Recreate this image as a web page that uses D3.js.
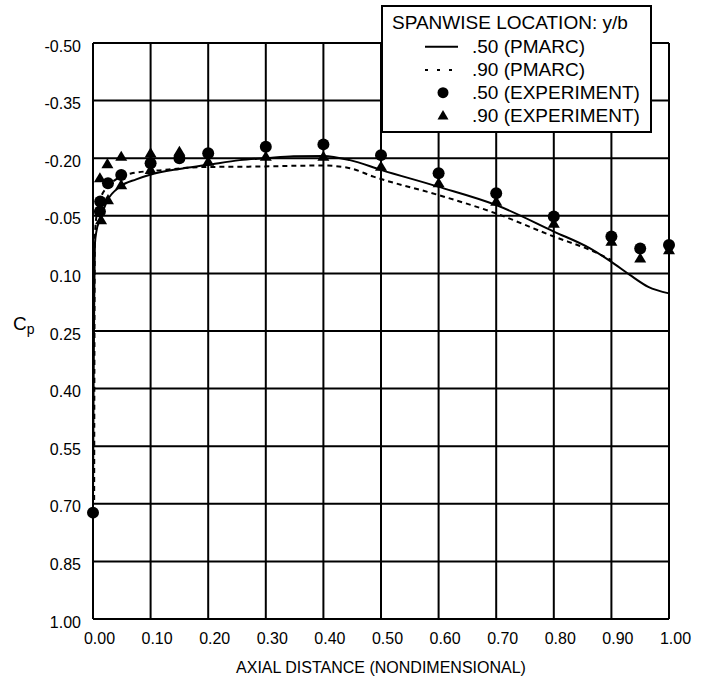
<!DOCTYPE html>
<html>
<head>
<meta charset="utf-8">
<script src="https://cdn.jsdelivr.net/npm/d3@7"></script>
<style>
    body { margin: 0; background: #fff; }
    svg { display: block; font-family: "Liberation Sans", Arial, sans-serif; }
</style>
</head>
<body>
<svg id="chart" width="708" height="684"></svg>
<script>
// axis ticks
var xTicks = [0, 0.1, 0.2, 0.3, 0.4, 0.5, 0.6, 0.7, 0.8, 0.9, 1.0];
var xTickLabels = ["0.00", "0.10", "0.20", "0.30", "0.40", "0.50", "0.60", "0.70", "0.80", "0.90", "1.00"];
var yTicks = [-0.5, -0.35, -0.2, -0.05, 0.1, 0.25, 0.4, 0.55, 0.7, 0.85, 1.0];
var yTickLabels = ["-0.50", "-0.35", "-0.20", "-0.05", "0.10", "0.25", "0.40", "0.55", "0.70", "0.85", "1.00"];

// y/b = .50, PMARC  [x, Cp]
var pmarc50 = [[0, 0.70], [0.001, 0.40], [0.002, 0.20], [0.0035, 0.02], [0.006, -0.01], [0.012, -0.04],
    [0.025, -0.09], [0.047, -0.126], [0.075, -0.145], [0.099, -0.157], [0.15, -0.172], [0.197, -0.182],
    [0.255, -0.195], [0.30, -0.200], [0.348, -0.205], [0.40, -0.206], [0.446, -0.195], [0.501, -0.169],
    [0.599, -0.126], [0.70, -0.078], [0.80, -0.009], [0.863, 0.035], [0.90, 0.07], [0.932, 0.104],
    [0.964, 0.135], [1.0, 0.152]];

// y/b = .90, PMARC
var pmarc90 = [[0.002, 0.69], [0.0025, 0.30], [0.003, 0.02], [0.006, -0.05], [0.012, -0.09],
    [0.025, -0.125], [0.04, -0.145], [0.066, -0.16], [0.12, -0.169], [0.19, -0.177], [0.27, -0.178],
    [0.40, -0.181], [0.446, -0.174], [0.487, -0.152], [0.60, -0.104], [0.70, -0.056], [0.80, 0.004],
    [0.863, 0.039], [0.90, 0.065]];

// y/b = .50, experiment
var exp50 = [[0, 0.723], [0.012, -0.061], [0.0125, -0.087], [0.026, -0.135], [0.049, -0.156],
    [0.10, -0.187], [0.15, -0.200], [0.20, -0.213], [0.30, -0.230], [0.40, -0.236], [0.50, -0.208],
    [0.60, -0.161], [0.70, -0.109], [0.80, -0.048], [0.90, 0.004], [0.95, 0.035], [1.0, 0.026]];

// y/b = .90, experiment
var exp90 = [[0.012, -0.148], [0.014, -0.039], [0.025, -0.185], [0.026, -0.091], [0.049, -0.204],
    [0.049, -0.130], [0.10, -0.213], [0.10, -0.170], [0.15, -0.217], [0.20, -0.191], [0.30, -0.204],
    [0.40, -0.204], [0.50, -0.178], [0.60, -0.135], [0.70, -0.087], [0.80, -0.030], [0.90, 0.017],
    [0.95, 0.061], [1.0, 0.039]];

var legendTitle = "SPANWISE LOCATION: y/b";
var legendLabels = [".50 (PMARC)", ".90 (PMARC)", ".50 (EXPERIMENT)", ".90 (EXPERIMENT)"];

var margin = {left: 93, top: 43};
var width = 576, height = 576;

var svg = d3.select("#chart");
var g = svg.append("g").attr("transform", "translate(" + margin.left + "," + margin.top + ")");

var x = d3.scaleLinear().domain([0, 1]).range([0, width]);
var y = d3.scaleLinear().domain([-0.5, 1.0]).range([0, height]);

// grid
g.append("g").selectAll("line.vgrid")
    .data(xTicks)
    .enter().append("line")
    .attr("x1", function (d) { return x(d); })
    .attr("x2", function (d) { return x(d); })
    .attr("y1", 0).attr("y2", height)
    .attr("stroke", "#000").attr("stroke-width", 2);

g.append("g").selectAll("line.hgrid")
    .data(yTicks)
    .enter().append("line")
    .attr("x1", 0).attr("x2", width)
    .attr("y1", function (d) { return y(d); })
    .attr("y2", function (d) { return y(d); })
    .attr("stroke", "#000").attr("stroke-width", 2);

// tick labels
g.append("g").selectAll("text")
    .data(xTicks)
    .enter().append("text")
    .attr("x", function (d) { return x(d) + 6.5; })
    .attr("y", height + 25)
    .attr("text-anchor", "middle")
    .attr("font-size", 16)
    .text(function (d, i) { return xTickLabels[i]; });

g.append("g").selectAll("text")
    .data(yTicks)
    .enter().append("text")
    .attr("x", -12)
    .attr("y", function (d) { return y(d) + 8.5; })
    .attr("text-anchor", "end")
    .attr("font-size", 16)
    .text(function (d, i) { return yTickLabels[i]; });

// axis titles
svg.append("text")
    .attr("x", 381)
    .attr("y", 673)
    .attr("text-anchor", "middle")
    .attr("font-size", 16)
    .text("AXIAL DISTANCE (NONDIMENSIONAL)");

var cp = svg.append("text").attr("x", 13).attr("y", 330).attr("font-size", 19);
cp.append("tspan").text("C");
cp.append("tspan").attr("font-size", 14).attr("dy", 4).text("p");

// PMARC lines
var line = d3.line()
    .x(function (d) { return x(d[0]); })
    .y(function (d) { return y(d[1]); })
    .curve(d3.curveMonotoneX);

g.append("path")
    .datum(pmarc90)
    .attr("d", line)
    .attr("fill", "none")
    .attr("stroke", "#000")
    .attr("stroke-width", 2)
    .attr("stroke-dasharray", "5,4");

g.append("path")
    .datum(pmarc50)
    .attr("d", line)
    .attr("fill", "none")
    .attr("stroke", "#000")
    .attr("stroke-width", 2);

// experiment markers
var triangle = "M0,-6L6,4.2L-6,4.2Z";

g.append("g").selectAll("circle")
    .data(exp50)
    .enter().append("circle")
    .attr("cx", function (d) { return x(d[0]); })
    .attr("cy", function (d) { return y(d[1]); })
    .attr("r", 6)
    .attr("fill", "#000");

g.append("g").selectAll("path")
    .data(exp90)
    .enter().append("path")
    .attr("d", triangle)
    .attr("transform", function (d) { return "translate(" + x(d[0]) + "," + y(d[1]) + ")"; })
    .attr("fill", "#000");

// legend
var legend = svg.append("g").attr("transform", "translate(382,6)");

legend.append("rect")
    .attr("width", 269).attr("height", 126)
    .attr("fill", "#fff")
    .attr("stroke", "#000").attr("stroke-width", 2);

legend.append("text")
    .attr("x", 10).attr("y", 23)
    .attr("font-size", 19)
    .text(legendTitle);

legend.selectAll("text.item")
    .data(legendLabels)
    .enter().append("text")
    .attr("class", "item")
    .attr("x", 90)
    .attr("y", function (d, i) { return 47 + i * 23; })
    .attr("font-size", 19)
    .text(function (d) { return d; });

legend.append("line")
    .attr("x1", 43).attr("x2", 76).attr("y1", 40.7).attr("y2", 40.7)
    .attr("stroke", "#000").attr("stroke-width", 2);

legend.append("line")
    .attr("x1", 43).attr("x2", 79).attr("y1", 64).attr("y2", 64)
    .attr("stroke", "#000").attr("stroke-width", 2)
    .attr("stroke-dasharray", "3,9");

legend.append("circle")
    .attr("cx", 61).attr("cy", 86.7).attr("r", 5.5)
    .attr("fill", "#000");

legend.append("path")
    .attr("d", "M0,-5.5L5.5,4L-5.5,4Z")
    .attr("transform", "translate(61,109.5)")
    .attr("fill", "#000");
</script>
</body>
</html>
